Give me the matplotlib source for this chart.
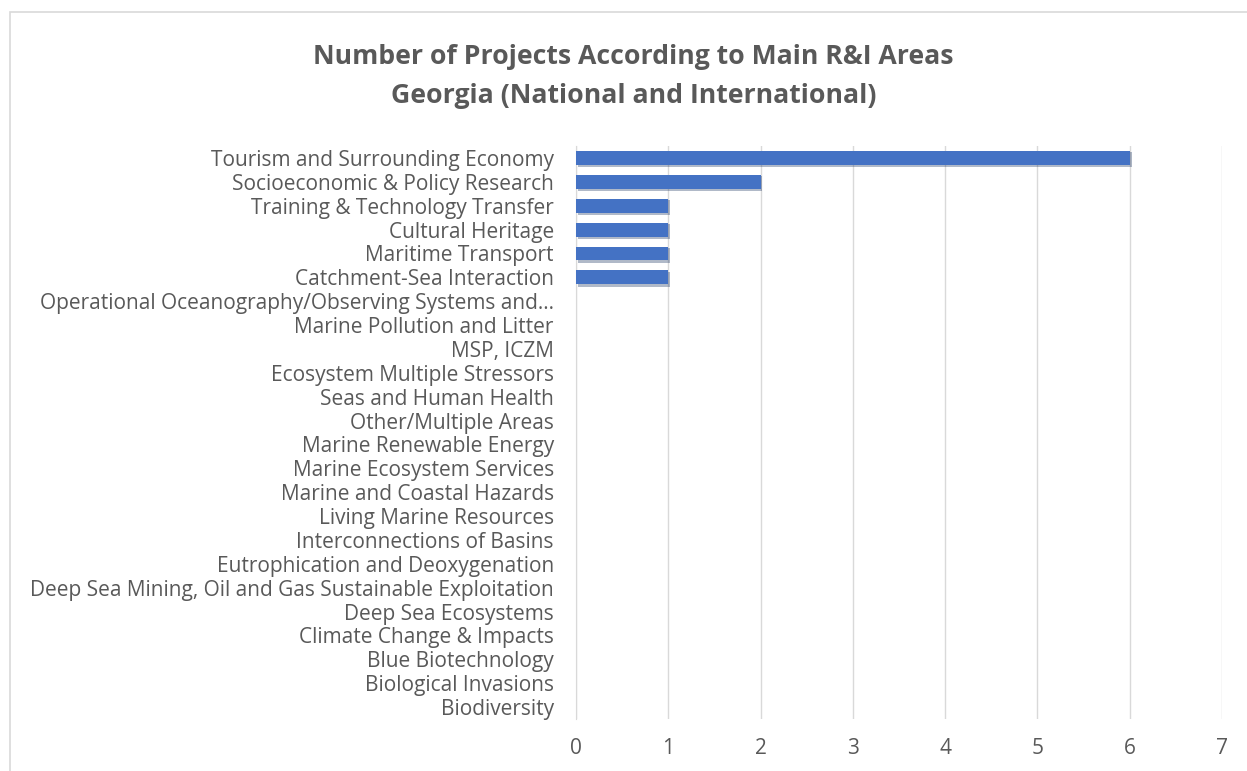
import matplotlib as mpl

mpl.use("Agg")
import matplotlib.pyplot as plt
from matplotlib.patches import Rectangle

categories = [
    "Tourism and Surrounding Economy",
    "Socioeconomic & Policy Research",
    "Training & Technology Transfer",
    "Cultural Heritage",
    "Maritime Transport",
    "Catchment-Sea Interaction",
    "Operational Oceanography/Observing Systems and...",
    "Marine Pollution and Litter",
    "MSP, ICZM",
    "Ecosystem Multiple Stressors",
    "Seas and Human Health",
    "Other/Multiple Areas",
    "Marine Renewable Energy",
    "Marine Ecosystem Services",
    "Marine and Coastal Hazards",
    "Living Marine Resources",
    "Interconnections of Basins",
    "Eutrophication and Deoxygenation",
    "Deep Sea Mining, Oil and Gas Sustainable Exploitation",
    "Deep Sea Ecosystems",
    "Climate Change & Impacts",
    "Blue Biotechnology",
    "Biological Invasions",
    "Biodiversity",
]
values = [6, 2, 1, 1, 1, 1, 0, 0, 0, 0, 0, 0, 0, 0, 0, 0, 0, 0, 0, 0, 0, 0, 0, 0]
x_ticks = [0, 1, 2, 3, 4, 5, 6, 7]

plt.rcParams["font.family"] = ["Open Sans", "DejaVu Sans"]
text_color = "#595959"

fig = plt.figure(figsize=(12.47, 7.71), dpi=100)
ax = fig.add_axes([0.4619, 0.0674, 0.518, 0.7432])

# chart frame
fig.patches.append(Rectangle((10 / 1247, -0.1), 1.2, 1 - 12 / 771 + 0.1,
                             transform=fig.transFigure, fill=False,
                             edgecolor="#D9D9D9", linewidth=1.2))

y = list(range(len(categories)))
# soft shadow under bars
ax.barh([v + 0.08 for v in y], values, height=0.62, left=0.02,
        color="#1F3864", alpha=0.35, zorder=2, linewidth=0)
ax.barh(y, values, height=0.58, color="#4472C4", zorder=3, linewidth=0)

ax.set_ylim(len(categories) - 0.5, -0.5)
ax.set_xlim(0, 7)
ax.set_xticks(x_ticks)
ax.set_yticks(y)
ax.set_yticklabels(categories)
ax.grid(axis="x", color="#D9D9D9", linewidth=1.0, zorder=0)
ax.set_axisbelow(True)
for side in ["top", "right", "bottom"]:
    ax.spines[side].set_visible(False)
ax.spines["left"].set_color("#D9D9D9")
ax.tick_params(axis="both", length=0, colors=text_color, labelsize=15)
ax.tick_params(axis="x", pad=14)
ax.tick_params(axis="y", pad=16)

fig.text(0.508, 0.926, "Number of Projects According to Main R&I Areas",
         ha="center", va="center", fontsize=19.2, fontweight="bold", color=text_color)
fig.text(0.508, 0.875, "Georgia (National and International)",
         ha="center", va="center", fontsize=19.2, fontweight="bold", color=text_color)

fig.savefig("out.png", dpi=100)
plt.close(fig)
